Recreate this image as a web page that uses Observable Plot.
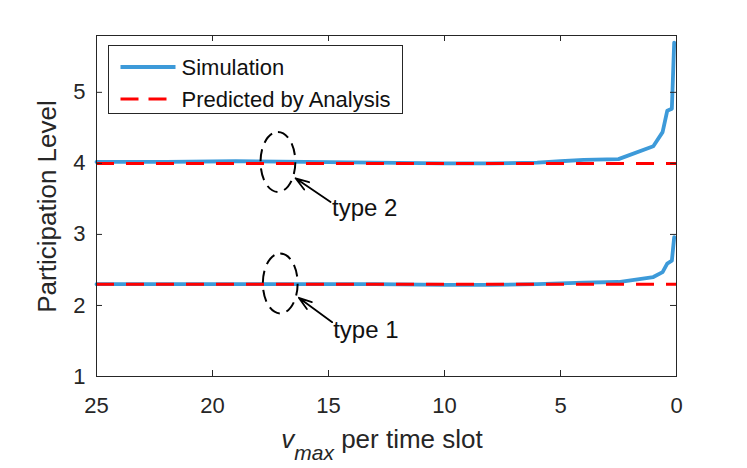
<!DOCTYPE html>
<html>
<head>
<meta charset="utf-8">
<script src="https://cdn.jsdelivr.net/npm/d3@7"></script>
<script src="https://cdn.jsdelivr.net/npm/@observablehq/plot@0.6"></script>
<style>
  html, body { margin: 0; padding: 0; background: white; }
</style>
</head>
<body>
<div id="chart"></div>
<script>
// ---- data ----
const vmax = [25, 22, 19, 16, 13, 10, 8, 6, 5, 4, 2.5, 1, 0.6, 0.4, 0.2, 0.1];
const simType2 = [4.02, 4.02, 4.03, 4.02, 4.01, 4.00, 4.00, 4.01, 4.03, 4.05, 4.06, 4.24, 4.44, 4.74, 4.77, 5.70];
const simType1 = [2.30, 2.30, 2.30, 2.30, 2.30, 2.29, 2.29, 2.30, 2.31, 2.32, 2.33, 2.40, 2.47, 2.59, 2.63, 2.96];
const predicted = [4.0, 2.3];
const xTicks = [25, 20, 15, 10, 5, 0];
const yTicks = [1, 2, 3, 4, 5];
const seriesNames = ["Simulation", "Predicted by Analysis"];
const annotationLabels = ["type 2", "type 1"];
const annotationTextX = [14.85, 14.8];
const annotationTextY = [3.37, 1.65];
const ellipseX = [17.18, 17.08];
const ellipseY = [4.02, 2.31];
const arrowFromX = [14.91, 14.84];
const arrowFromY = [3.455, 1.765];
const arrowToX = [16.42, 16.28];
const arrowToY = [3.79, 2.108];

const sim = vmax.map((v, i) => ({v, type2: simType2[i], type1: simType1[i]}));
const notes = annotationLabels.map((t, i) => ({
  text: t, tx: annotationTextX[i], ty: annotationTextY[i],
  ex: ellipseX[i], ey: ellipseY[i],
  x1: arrowFromX[i], y1: arrowFromY[i], x2: arrowToX[i], y2: arrowToY[i]
}));

const BLUE = "#3d9ad9";
const RED = "#ff0000";
const INK = "#262626";
const FONT = "'Liberation Sans', Arial, Helvetica, sans-serif";

// vertical ellipse symbol (rx = 0.58 r, ry = r)
const ellipseSymbol = {
  draw(context, size) {
    const r = Math.sqrt(size / Math.PI);
    const rx = 0.58 * r, ry = r, k = 0.5523;
    context.moveTo(0, -ry);
    context.bezierCurveTo(k * rx, -ry, rx, -k * ry, rx, 0);
    context.bezierCurveTo(rx, k * ry, k * rx, ry, 0, ry);
    context.bezierCurveTo(-k * rx, ry, -rx, k * ry, -rx, 0);
    context.bezierCurveTo(-rx, -k * ry, -k * rx, -ry, 0, -ry);
    context.closePath();
  }
};

const W = 747, H = 468, ML = 96, MR = 71, MT = 35, MB = 92;
const frameW = W - ML - MR, frameH = H - MT - MB;
const tickLen = 6;

const svg = Plot.plot({
  width: W, height: H,
  marginLeft: ML, marginRight: MR, marginTop: MT, marginBottom: MB,
  style: {fontFamily: FONT, fontSize: "22px", color: INK, background: "white"},
  x: {domain: [25, 0]},
  y: {domain: [1, 5.8]},
  marks: [
    Plot.line(sim, {x: "v", y: "type2", stroke: BLUE, strokeWidth: 3.8}),
    Plot.line(sim, {x: "v", y: "type1", stroke: BLUE, strokeWidth: 3.8}),
    Plot.ruleY(predicted, {stroke: RED, strokeWidth: 3, strokeDasharray: "18,12"}),
    Plot.dot(notes, {x: "ex", y: "ey", r: 30, symbol: ellipseSymbol, stroke: "black", fill: "none", strokeWidth: 2, strokeDasharray: "12,7"}),
    Plot.arrow(notes, {x1: "x1", y1: "y1", x2: "x2", y2: "y2", stroke: "black", strokeWidth: 1.8, headLength: 17, headAngle: 36}),
    Plot.text(notes, {x: "tx", y: "ty", text: "text", textAnchor: "start", fontSize: 24, fill: "#111"}),
    Plot.frame({stroke: INK, strokeWidth: 1}),
    Plot.tickX(xTicks, {x: d => d, insetTop: frameH - tickLen, stroke: INK}),
    Plot.tickX(xTicks, {x: d => d, insetBottom: frameH - tickLen, stroke: INK}),
    Plot.tickY(yTicks, {y: d => d, insetRight: frameW - tickLen, stroke: INK}),
    Plot.tickY(yTicks, {y: d => d, insetLeft: frameW - tickLen, stroke: INK}),
    Plot.axisX({ticks: xTicks, tickFormat: d => String(d), tickSize: 0, tickPadding: 21, fontSize: 22, fill: INK, label: null}),
    Plot.axisY({ticks: yTicks, tickFormat: d => String(d), tickSize: 0, tickPadding: 11, fontSize: 22, fill: INK, label: null})
  ]
});

const s = d3.select(svg);

// y axis label
s.append("text")
  .attr("transform", `translate(56,${MT + frameH / 2 + 1}) rotate(-90)`)
  .attr("text-anchor", "middle")
  .attr("font-family", FONT)
  .attr("font-size", 26)
  .attr("fill", INK)
  .text("Participation Level");

// x axis label with subscript
const xl = s.append("text")
  .attr("x", ML + frameW / 2 - 4)
  .attr("y", 448)
  .attr("text-anchor", "middle")
  .attr("font-family", FONT)
  .attr("font-size", 26)
  .attr("fill", INK);
xl.append("tspan").attr("font-style", "italic").text("v");
xl.append("tspan").attr("font-style", "italic").attr("font-size", 21).attr("dy", 12).text("max");
xl.append("tspan").attr("dy", -12).text(" per time slot");

// legend (inside the axes, upper-left)
const lg = s.append("g").attr("transform", "translate(108.5,45.5)");
lg.append("rect").attr("width", 294).attr("height", 68)
  .attr("fill", "white").attr("stroke", INK).attr("stroke-width", 1);
const rows = [
  {name: seriesNames[0], stroke: BLUE, dash: null, w: 3.8, y: 21.5},
  {name: seriesNames[1], stroke: RED, dash: "18,10", w: 3, y: 53.5}
];
rows.forEach(r => {
  const ln = lg.append("line").attr("x1", 12).attr("x2", 67).attr("y1", r.y).attr("y2", r.y)
    .attr("stroke", r.stroke).attr("stroke-width", r.w);
  if (r.dash) ln.attr("stroke-dasharray", r.dash);
  lg.append("text").attr("x", 73).attr("y", r.y).attr("dy", "0.35em")
    .attr("text-anchor", "start")
    .attr("font-family", FONT).attr("font-size", 22).attr("fill", "#111")
    .text(r.name);
});

document.getElementById("chart").appendChild(svg);
</script>
</body>
</html>
